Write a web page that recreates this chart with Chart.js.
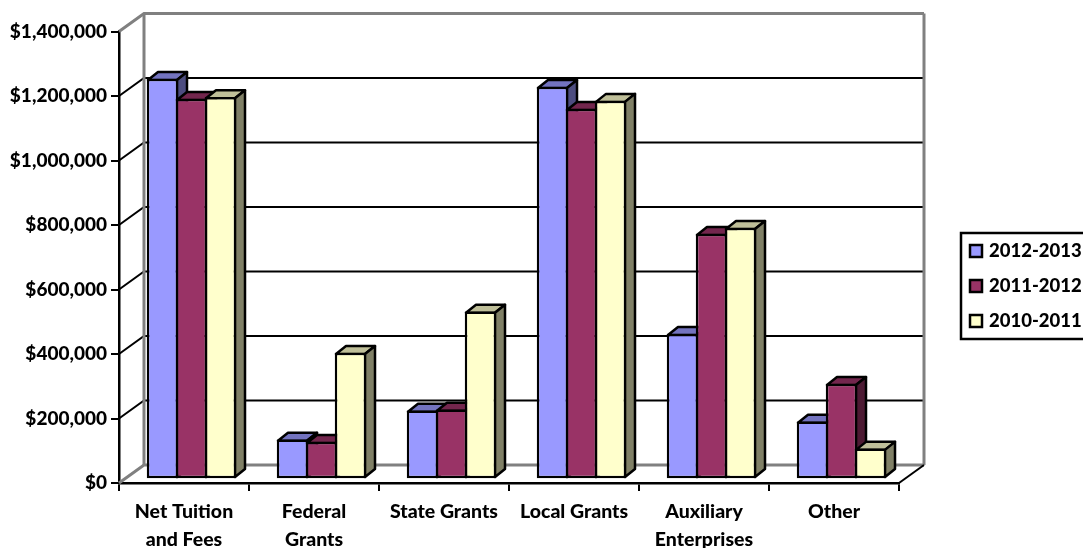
<!DOCTYPE html>
<html>
<head>
<meta charset="utf-8">
<title>Revenue by source</title>
<script src="https://cdn.jsdelivr.net/npm/chart.js@4"></script>
<style>
    html, body { margin: 0; padding: 0; background: #fff; overflow: hidden; }
    #wrap { width: 1083px; height: 548px; }
</style>
</head>
<body>
<div id="wrap"><canvas id="barChart" width="1083" height="548"></canvas></div>
<script>
const categories = [['Net Tuition', 'and Fees'], ['Federal', 'Grants'], 'State Grants', 'Local Grants', ['Auxiliary', 'Enterprises'], 'Other'];
const series2012 = [1242000, 123000, 213000, 1217000, 451000, 179000];
const series2011 = [1180000, 116000, 216000, 1149000, 761000, 296000];
const series2010 = [1185000, 392000, 520000, 1174000, 780000, 95000];
const seriesNames = ['2012-2013', '2011-2012', '2010-2011'];
const frontColors = ['#9999FF', '#993366', '#FFFFCC'];
const topColors = ['#7373BF', '#73264D', '#BFBF99'];
const sideColors = ['#4D4D80', '#4D1A33', '#808066'];

const FAMILY = 'Lato, "Open Sans", sans-serif';
const LINE = 2.5;

// fake 3d: back wall sits this far behind the front axes
const wallX = 25, wallY = 18;
// bars stand in the middle of the floor
const barX = 7.5, barY = 3.75;
const depthX = 10, depthY = 8;

function drawLine(ctx, points, color, width) {
    ctx.strokeStyle = color;
    ctx.lineWidth = width;
    ctx.beginPath();
    points.forEach((p, i) => i ? ctx.lineTo(p[0], p[1]) : ctx.moveTo(p[0], p[1]));
    ctx.stroke();
}

function drawFace(ctx, points, color) {
    ctx.fillStyle = color;
    ctx.strokeStyle = '#000';
    ctx.lineWidth = LINE;
    ctx.lineJoin = 'round';
    ctx.beginPath();
    points.forEach((p, i) => i ? ctx.lineTo(p[0], p[1]) : ctx.moveTo(p[0], p[1]));
    ctx.closePath();
    ctx.fill();
    ctx.stroke();
}

const fake3d = {
    id: 'fake3d',
    beforeDatasetsDraw(chart) {
        const ctx = chart.ctx;
        const { left, right, bottom, top } = chart.chartArea;
        const y = chart.scales.y;

        ctx.save();
        y.ticks.forEach(t => {
            const py = y.getPixelForValue(t.value);
            const edge = t.value === 0 || t.value === y.max;
            drawLine(ctx, [[left, py], [left + wallX, py - wallY], [right + wallX, py - wallY]], edge ? '#808080' : '#000', edge ? 3 : 2);
        });
        drawLine(ctx, [[left + wallX, top - wallY], [left + wallX, bottom - wallY]], '#808080', 3);
        drawLine(ctx, [[right + wallX, top - wallY], [right + wallX, bottom - wallY]], '#808080', 3);
        drawLine(ctx, [[right, bottom], [right + wallX, bottom - wallY]], '#000', 2);
        ctx.restore();

        // left to right, so each bar covers the side of the one before it
        ctx.save();
        ctx.translate(barX, -barY);
        chart.data.datasets.forEach((ds, i) => {
            chart.getDatasetMeta(i).data.forEach(bar => {
                const x0 = bar.x - bar.width / 2 + LINE / 2;
                const x1 = bar.x + bar.width / 2 - LINE / 2;
                const y0 = bar.y + LINE / 2;
                const y1 = bar.base - LINE / 2;
                drawFace(ctx, [[x0, y0], [x0 + depthX, y0 - depthY], [x1 + depthX, y0 - depthY], [x1, y0]], topColors[i]);
                drawFace(ctx, [[x1, y0], [x1 + depthX, y0 - depthY], [x1 + depthX, y1 - depthY], [x1, y1]], sideColors[i]);
            });
            chart.getDatasetMeta(i).data.forEach(bar => bar.draw(ctx));
        });
        ctx.restore();
    },
    beforeDatasetDraw() {
        return false; // already drawn above
    },
    afterDraw(chart) {
        // legend box, runs off the right side of the picture like the original
        const ctx = chart.ctx;
        ctx.save();
        ctx.strokeStyle = '#000';
        ctx.lineWidth = LINE;
        ctx.strokeRect(961, 233, 130, 106);
        ctx.font = '900 18.5px ' + FAMILY;
        ctx.textBaseline = 'middle';
        chart.data.datasets.forEach((ds, i) => {
            const ly = 251 + i * 35;
            ctx.fillStyle = ds.backgroundColor;
            ctx.fillRect(970, ly - 6, 12, 12);
            ctx.strokeRect(970, ly - 6, 12, 12);
            ctx.fillStyle = '#000';
            ctx.fillText(ds.label, 989, ly);
        });
        ctx.restore();
    }
};

new Chart(document.getElementById('barChart').getContext('2d'), {
    type: 'bar',
    plugins: [fake3d],
    data: {
        labels: categories,
        datasets: [
            { label: seriesNames[0], data: series2012, backgroundColor: frontColors[0] },
            { label: seriesNames[1], data: series2011, backgroundColor: frontColors[1] },
            { label: seriesNames[2], data: series2010, backgroundColor: frontColors[2] }
        ]
    },
    options: {
        responsive: false,
        animation: false,
        layout: { padding: { top: 31.5, right: 184, left: 0, bottom: 0 } },
        datasets: {
            bar: {
                borderColor: '#000',
                borderWidth: LINE,
                borderSkipped: false,
                categoryPercentage: 87 / 130,
                barPercentage: (29 + LINE) / 29,
                clip: false
            }
        },
        plugins: {
            legend: { display: false },
            tooltip: { enabled: false }
        },
        scales: {
            x: {
                afterFit(scale) { scale.height = 65; },
                grid: { drawOnChartArea: false, color: '#000', lineWidth: 2, tickLength: 8 },
                border: { color: '#000', width: 2.5 },
                ticks: {
                    color: '#000',
                    font: { family: FAMILY, size: 19.5, weight: '900', lineHeight: 1.44 },
                    maxRotation: 0,
                    autoSkip: false,
                    padding: 7
                }
            },
            y: {
                min: 0,
                max: 1400000,
                afterFit(scale) { scale.width = 119; },
                grid: { drawOnChartArea: false, color: '#000', lineWidth: 2, tickLength: 8 },
                border: { color: '#000', width: 2.5 },
                ticks: {
                    stepSize: 200000,
                    color: '#000',
                    font: { family: FAMILY, size: 19, weight: '900' },
                    padding: 4,
                    callback: value => '$' + value.toLocaleString('en-US')
                }
            }
        }
    }
});
</script>
</body>
</html>
